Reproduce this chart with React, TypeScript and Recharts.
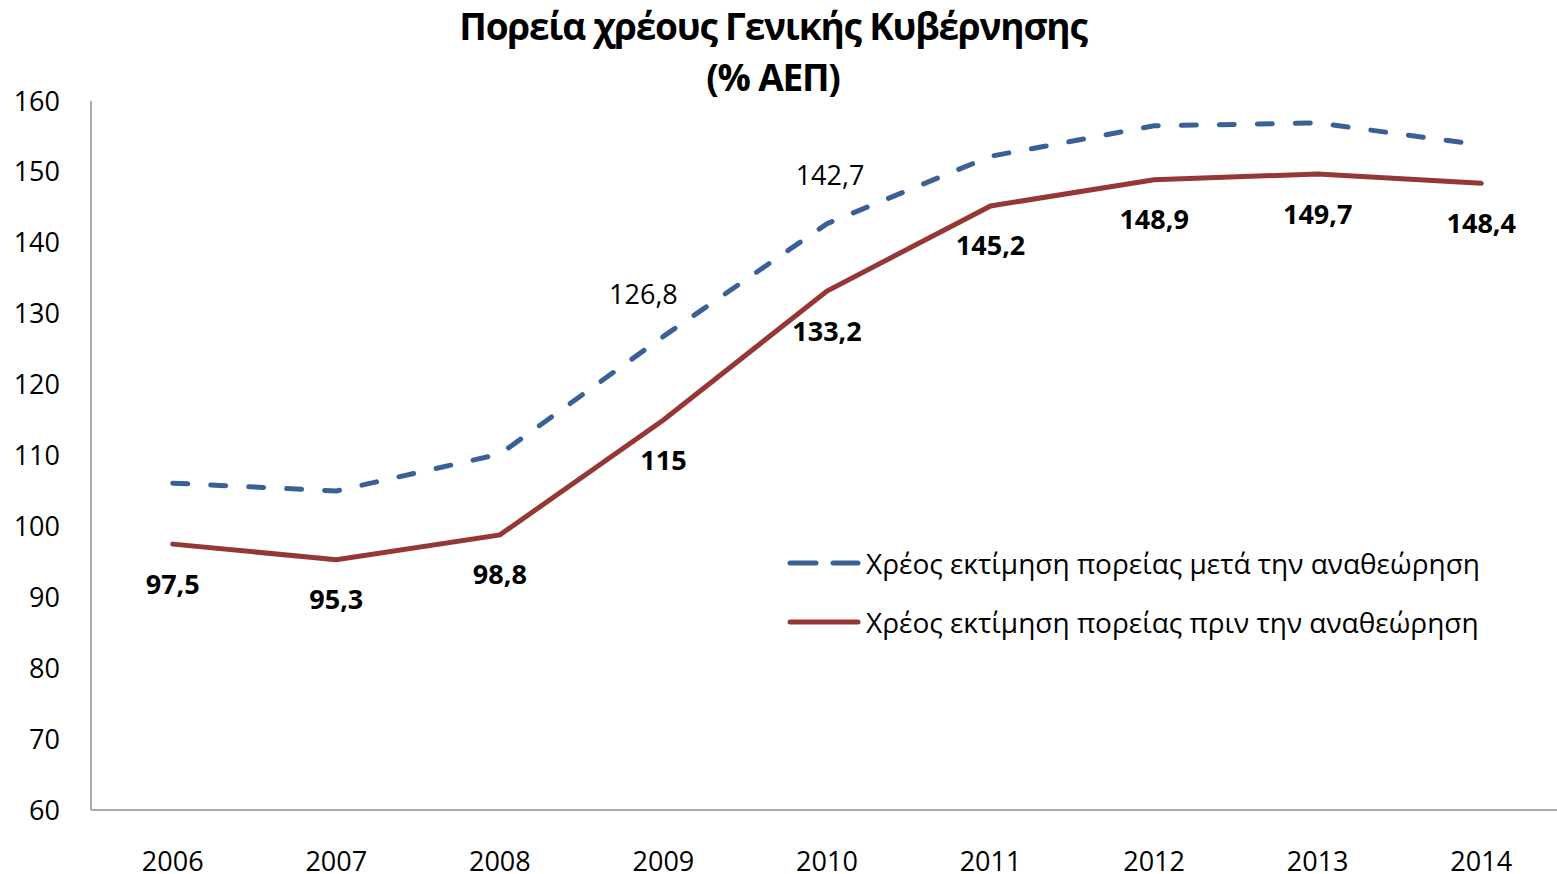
import React from 'react'
import { LineChart, Line, XAxis, YAxis, Legend } from 'recharts'

const years = ['2006', '2007', '2008', '2009', '2010', '2011', '2012', '2013', '2014']
// after revision (dashed)
const afterRevision = [106.1, 105.0, 110.2, 126.8, 142.7, 152.2, 156.5, 156.9, 153.8]
// before revision (solid)
const beforeRevision = [97.5, 95.3, 98.8, 115, 133.2, 145.2, 148.9, 149.7, 148.4]
const yTicks = [60, 70, 80, 90, 100, 110, 120, 130, 140, 150, 160]
const labelledAfter = ['2009', '2010']

const seriesNames = {
  after: 'Χρέος εκτίμηση πορείας μετά την αναθεώρηση',
  before: 'Χρέος εκτίμηση πορείας πριν την αναθεώρηση'
}

const BLUE = '#3A6197'
const RED = '#953735'
const FONT = '"Open Sans", sans-serif'

const rows = years.map((year, i) => ({
  year,
  after: afterRevision[i],
  before: beforeRevision[i]
}))

const fmt = (v: number) => String(v).replace('.', ',')

const BeforeLabel = ({ x, y, value }: any) => (
  <text
    x={x}
    y={y + 39}
    textAnchor="middle"
    dominantBaseline="central"
    fontFamily={FONT}
    fontSize={27}
    fontWeight="bold"
    fill="#000"
  >
    {fmt(value)}
  </text>
)

const AfterLabel = ({ x, y, value, index }: any) => {
  if (!labelledAfter.includes(years[index])) return null
  const first = years[index] === '2009'
  return (
    <text
      x={x + (first ? -20 : 3)}
      y={y - (first ? 43 : 49)}
      textAnchor="middle"
      dominantBaseline="central"
      fontFamily={FONT}
      fontSize={27}
      fill="#000"
    >
      {fmt(value)}
    </text>
  )
}

const YearTick = ({ x, y, payload }: any) => (
  <text x={x} y={y + 50} textAnchor="middle" dominantBaseline="central" fontFamily={FONT} fontSize={27} fill="#000">
    {payload.value}
  </text>
)

const LegendContent = ({ payload }: any) => (
  <div style={{ fontFamily: FONT, fontSize: 28, color: '#000' }}>
    {(payload || []).map((entry: any) => {
      const dashed = entry.dataKey === 'after'
      return (
        <div key={entry.dataKey} style={{ display: 'flex', alignItems: 'center', height: 59 }}>
          <svg width={78} height={12} style={{ marginRight: 2 }}>
            <line
              x1={4}
              y1={6}
              x2={72}
              y2={6}
              stroke={entry.color}
              strokeWidth={5}
              strokeLinecap="round"
              strokeDasharray={dashed ? '26 17' : undefined}
            />
          </svg>
          <span style={{ whiteSpace: 'nowrap' }}>{seriesNames[entry.dataKey as 'after' | 'before']}</span>
        </div>
      )
    })}
  </div>
)

export default function App() {
  return (
    <div style={{ position: 'fixed', left: 0, top: 0, width: 1557, height: 874, overflow: 'hidden', background: '#fff' }}>
      <div
        style={{
          position: 'absolute',
          left: 0,
          top: 0,
          width: 1546,
          textAlign: 'center',
          fontFamily: FONT,
          fontWeight: 700,
          fontSize: 37,
          lineHeight: '51px',
          letterSpacing: -1.2,
          color: '#000',
          zIndex: 2
        }}
      >
        Πορεία χρέους Γενικής Κυβέρνησης
        <br />
        (% ΑΕΠ)
      </div>
      <LineChart
        width={1563}
        height={874}
        data={rows}
        margin={{ top: 101, right: 0, bottom: 0, left: 0 }}
      >
        <XAxis
          dataKey="year"
          height={64}
          padding={{ left: 81.75, right: 81.75 }}
          axisLine={{ stroke: '#8C8FA6', strokeWidth: 1.5 }}
          tickLine={false}
          tickSize={0}
          tickMargin={0}
          tick={<YearTick />}
        />
        <YAxis
          width={91}
          domain={[60, 160]}
          ticks={yTicks}
          interval={0}
          axisLine={{ stroke: '#8C8FA6', strokeWidth: 1.5 }}
          tickLine={false}
          tickSize={0}
          tickMargin={31}
          tick={{ fontSize: 27, fill: '#000', fontFamily: FONT }}
        />
        <Legend
          layout="vertical"
          align="center"
          verticalAlign="middle"
          content={<LegendContent />}
          wrapperStyle={{ top: 533, left: 786, width: 760 }}
        />
        <Line
          dataKey="after"
          stroke={BLUE}
          strokeWidth={5}
          strokeDasharray="15 23"
          strokeLinecap="round"
          dot={false}
          activeDot={false}
          isAnimationActive={false}
          label={<AfterLabel />}
        />
        <Line
          dataKey="before"
          stroke={RED}
          strokeWidth={5}
          strokeLinecap="round"
          dot={false}
          activeDot={false}
          isAnimationActive={false}
          label={<BeforeLabel />}
        />
      </LineChart>
    </div>
  )
}
